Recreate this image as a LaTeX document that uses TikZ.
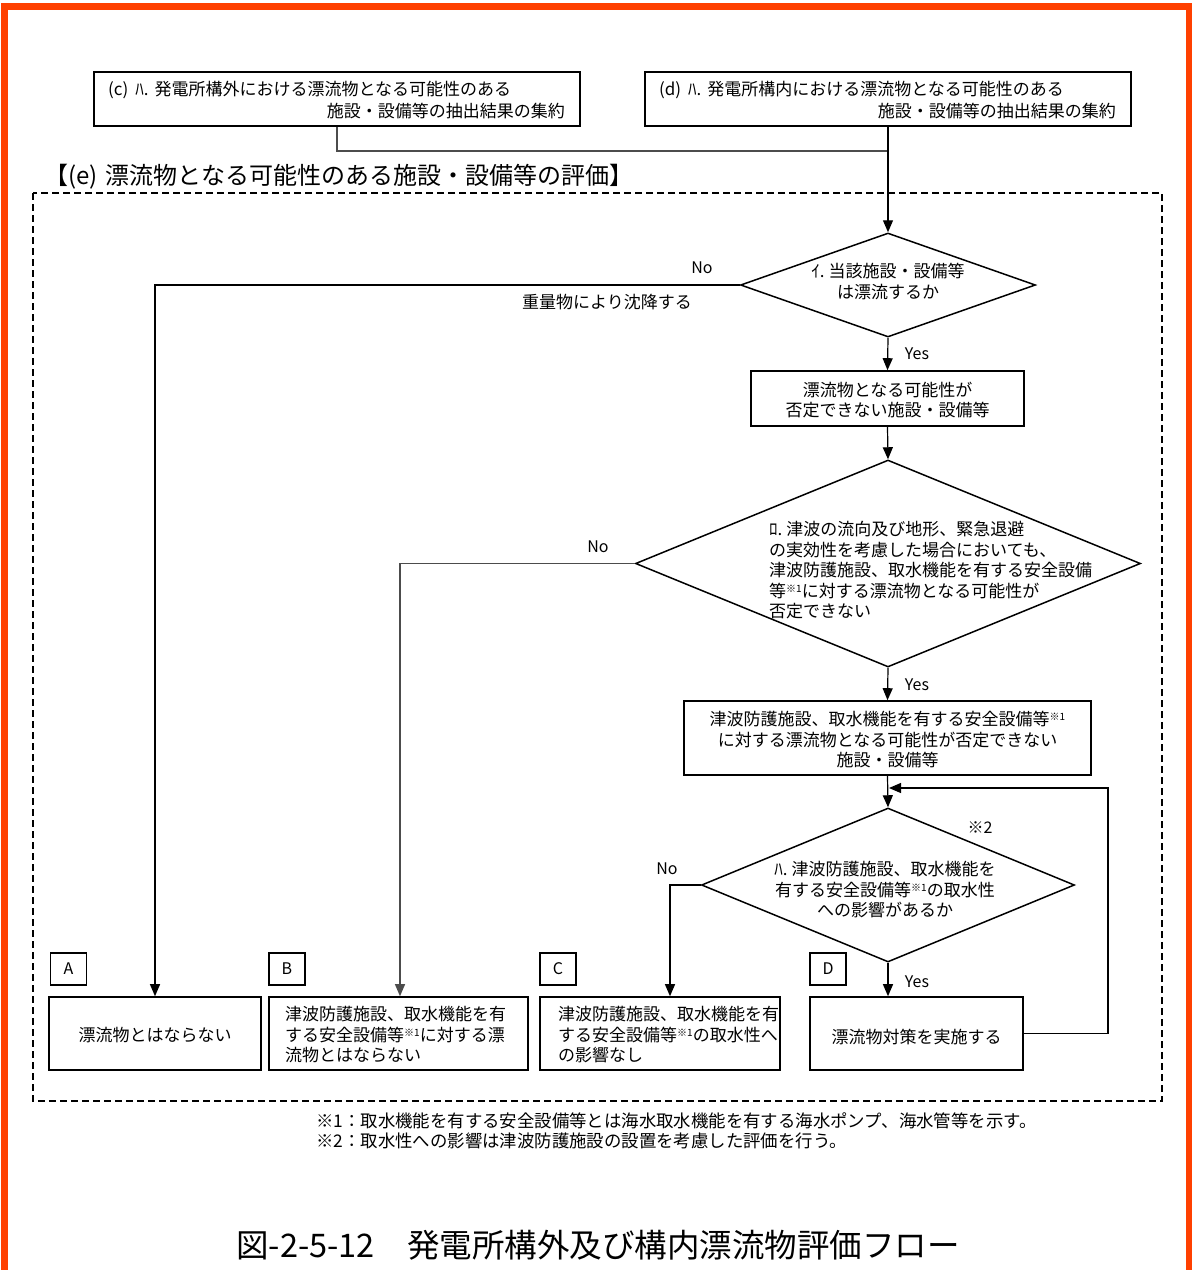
\documentclass[tikz,border=0pt]{standalone}
\usepackage{fontspec}
\setmainfont{Noto Sans CJK JP}
\usetikzlibrary{shapes.geometric,arrows.meta}
\definecolor{frameorange}{RGB}{255,64,0}
\newcommand{\komeone}{\raisebox{0.55ex}{\fontsize{10}{10}\selectfont ※1}}
\begin{document}
\begin{tikzpicture}[x=1pt,y=-1pt,
  every node/.style={font=\fontsize{17}{20.5}\selectfont, inner sep=0pt},
  box/.style={draw, line width=1.6pt, inner sep=0pt},
  lblbox/.style={draw, line width=1.4pt, minimum width=36pt, minimum height=32pt, font=\fontsize{16}{16}\selectfont},
  dia/.style={draw, diamond, line width=1.5pt, inner sep=0pt},
  conn/.style={line width=1.2pt},
  arr/.style={conn, -{Triangle[length=12pt,width=10pt]}},
  yn/.style={font=\fontsize{16}{16}\selectfont},
  dframe/.style={line width=1.8pt, dash pattern=on 7pt off 4pt}
]
\useasboundingbox (0,0) rectangle (1192,1270);
% outer orange frame
\fill[frameorange] (1,3) rectangle (8,1270);
\fill[frameorange] (1,3) rectangle (1192,10);
\fill[frameorange] (1186,3) rectangle (1192,1270);

% top boxes
\node[box, minimum width=486pt, minimum height=54pt] (c) at (337,99) {};
\node[anchor=west] (ct1) at (108,90) {(c)\hspace{7pt}ﾊ.\hspace{6pt}発電所構外における漂流物となる可能性のある};
\node[anchor=east] (ct2) at (565,111) {施設・設備等の抽出結果の集約};
\node[box, minimum width=486pt, minimum height=54pt] (d) at (888,99) {};
\node[anchor=west] (dt1) at (659,90) {(d)\hspace{7pt}ﾊ.\hspace{6pt}発電所構内における漂流物となる可能性のある};
\node[anchor=east] (dt2) at (1116,111) {施設・設備等の抽出結果の集約};

% dashed evaluation frame
\draw[dframe] (33,193) rectangle (1162,1101);
\node[anchor=west, font=\fontsize{24}{24}\selectfont] (etitle) at (44,177) {【(e)\hspace{8pt}漂流物となる可能性のある施設・設備等の評価】};

% diamond 1
\node[dia, minimum width=295pt, minimum height=104pt] (d1) at (888,285) {};
\node[align=center] (d1t) at (888,281.5) {ｲ.\hspace{4pt}当該施設・設備等\\は漂流するか};

% box 2
\node[box, minimum width=273pt, minimum height=55pt] (b2) at (887.5,398.5) {};
\node[align=center] (b2t) at (887.5,400) {漂流物となる可能性が\\否定できない施設・設備等};

% diamond 2
\node[dia, minimum width=505pt, minimum height=207pt] (d2) at (888,563.5) {};
\node[align=left, anchor=west] (d2t) at (769,570.5) {ﾛ.\hspace{4pt}津波の流向及び地形、緊急退避\\の実効性を考慮した場合においても、\\津波防護施設、取水機能を有する安全設備\\等\komeone に対する漂流物となる可能性が\\否定できない};

% box 3
\node[box, minimum width=407pt, minimum height=74pt] (b3) at (887.5,738) {};
\node[align=center] (b3t) at (887.5,739.5) {津波防護施設、取水機能を有する安全設備等\komeone\\に対する漂流物となる可能性が否定できない\\施設・設備等};

% diamond 3
\node[dia, minimum width=373pt, minimum height=154pt] (d3) at (888,885) {};
\node[align=center] (d3t) at (885,890) {ﾊ.\hspace{4pt}津波防護施設、取水機能を\\有する安全設備等\komeone の取水性\\への影響があるか};
\node[yn] (k2) at (980,828) {※2};

% bottom boxes
\node[box, minimum width=212pt, minimum height=73pt] (bA) at (155,1033.5) {};
\node (bAt) at (155,1035) {漂流物とはならない};
\node[box, minimum width=259pt, minimum height=73pt] (bB) at (398.5,1033.5) {};
\node[align=left, anchor=west] (bBt) at (285,1035) {津波防護施設、取水機能を有\\する安全設備等\komeone に対する漂\\流物とはならない};
\node[box, minimum width=240pt, minimum height=73pt] (bC) at (660,1033.5) {};
\node[align=left, anchor=west] (bCt) at (558,1035) {津波防護施設、取水機能を有\\する安全設備等\komeone の取水性へ\\の影響なし};
\node[box, minimum width=213pt, minimum height=73pt] (bD) at (916.5,1033.5) {};
\node (bDt) at (916.5,1037) {漂流物対策を実施する};

% letter labels
\node[lblbox] (lA) at (68.5,969) {A};
\node[lblbox] (lB) at (287,969) {B};
\node[lblbox] (lC) at (558,969) {C};
\node[lblbox] (lD) at (828,969) {D};

% connectors
\coordinate (m) at (888,151);
\draw[conn, black!70] (c.south) |- (m);
\draw[arr] (d.south) -- (d1.north);
\draw[arr] (d1.west) -| (bA.north);
\node[yn] (no1) at (702,268) {No};
\node (sink) at (607,302) {重量物により沈降する};
\draw[arr] (d1.south) -- (b2.north);
\node[yn] (yes1) at (917,354) {Yes};
\draw[arr] (b2.south) -- (d2.north);
\draw[arr, black!70] (d2.west) -| ([xshift=1.5pt]bB.north);
\node[yn] (no2) at (598,547) {No};
\draw[arr] (d2.south) -- (b3.north);
\node[yn] (yes2) at (917,685) {Yes};
\draw[arr] (b3.south) -- (d3.north);
\draw[arr] (d3.west) -| ([xshift=10pt]bC.north);
\node[yn] (no3) at (667,869) {No};
\draw[arr] (d3.south) -- (d3.south |- bD.north);
\node[yn] (yes3) at (917,982) {Yes};
\coordinate (fb1) at (1108,788);
\coordinate (fb2) at (889,788);
\draw[arr] (bD.east) -| (fb1) -- (fb2);

% footnotes
\node[anchor=west, font=\fontsize{17.4}{20}\selectfont] (fn1) at (316,1121) {※1：取水機能を有する安全設備等とは海水取水機能を有する海水ポンプ、海水管等を示す。};
\node[anchor=west, font=\fontsize{17.4}{20}\selectfont] (fn2) at (316,1141) {※2：取水性への影響は津波防護施設の設置を考慮した評価を行う。};

% caption
\node[font=\fontsize{32.5}{33}\selectfont] (cap) at (598,1245) {図-2-5-12\hspace{1em}発電所構外及び構内漂流物評価フロー};
\end{tikzpicture}
\end{document}
